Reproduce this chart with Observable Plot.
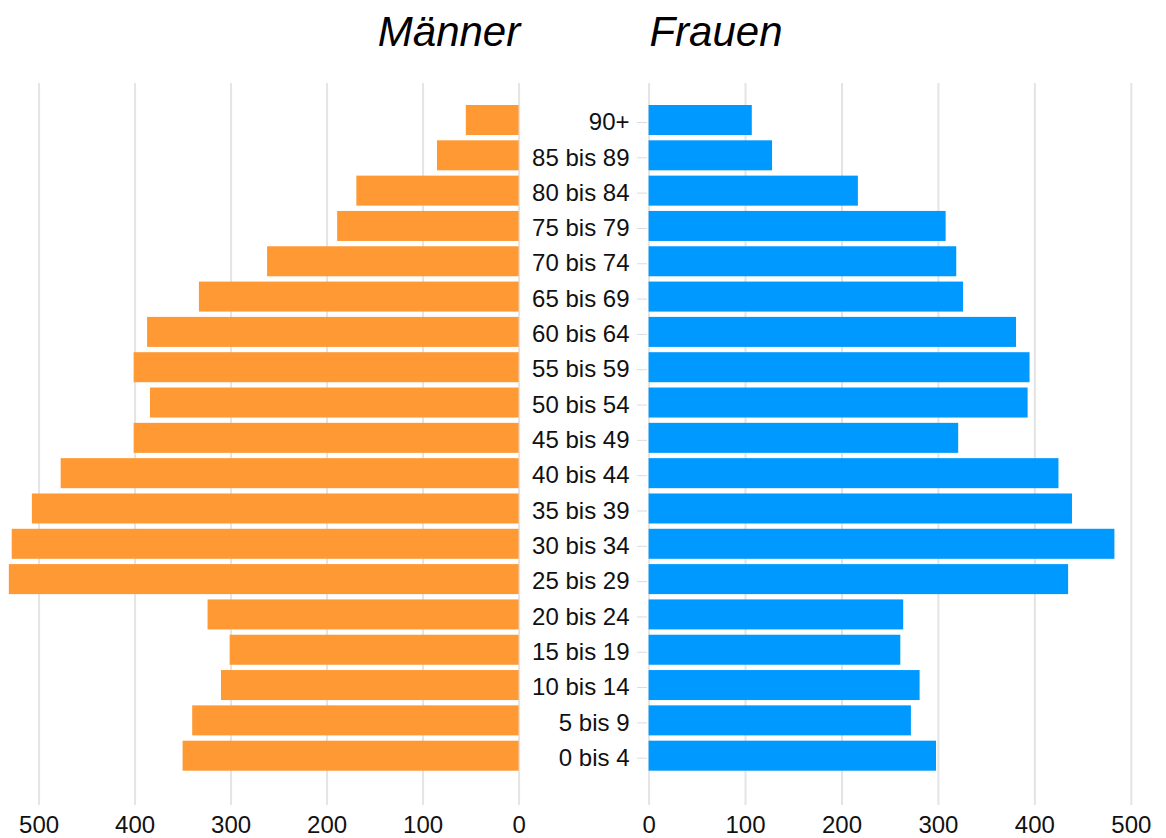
<!DOCTYPE html>
<html>
<head>
<meta charset="utf-8">
<script src="https://cdn.jsdelivr.net/npm/d3@7"></script>
<script src="https://cdn.jsdelivr.net/npm/@observablehq/plot@0.6"></script>
<style>
  html, body { margin: 0; padding: 0; background: #fff; width: 1166px; height: 838px; overflow: hidden; font-family: "Liberation Sans", Arial, sans-serif; }
  .title { position: absolute; top: 8px; font-size: 42px; font-style: italic; color: #000; transform: translateX(-50%); white-space: nowrap; }
  #left, #right { position: absolute; top: 70px; }
  #left { left: 0; }
  #right { left: 520px; }
  svg { overflow: visible; }
</style>
</head>
<body>
<div class="title" style="left:449px">Männer</div>
<div class="title" style="left:716px">Frauen</div>
<div id="left"></div>
<div id="right"></div>
<script>
const ageGroups = ["90+", "85 bis 89", "80 bis 84", "75 bis 79", "70 bis 74", "65 bis 69", "60 bis 64", "55 bis 59", "50 bis 54", "45 bis 49", "40 bis 44", "35 bis 39", "30 bis 34", "25 bis 29", "20 bis 24", "15 bis 19", "10 bis 14", "5 bis 9", "0 bis 4"];
const maenner = [55, 85, 169, 189, 262, 333, 387, 401, 384, 401, 477, 507, 528, 531, 324, 301, 310, 340, 350];
const frauen = [107, 128, 217, 308, 319, 326, 381, 395, 393, 321, 425, 439, 483, 435, 264, 261, 281, 272, 298];
const xTicks = [0, 100, 200, 300, 400, 500];

const menData = ageGroups.map((a, i) => ({age: a, value: maenner[i]}));
const womenData = ageGroups.map((a, i) => ({age: a, value: frauen[i]}));

const H = 768;
const font = "Liberation Sans, Arial, sans-serif";
const yScale = {domain: ageGroups, range: [29.7, 706], padding: 0.15, round: false};

const left = Plot.plot({
  width: 520, height: H,
  marginTop: 13, marginBottom: 33, marginLeft: 0, marginRight: 0,
  style: {fontFamily: font, fontSize: "24px", color: "#111", background: "transparent"},
  x: {domain: [0, 500], range: [518.6, 38.6], axis: null},
  y: {...yScale, axis: null},
  marks: [
    Plot.gridX(xTicks, {stroke: "#e4e4e4", strokeOpacity: 1, strokeWidth: 2}),
    Plot.barX(menData, {x1: 0, x2: "value", y: "age", fill: "#ff9933"}),
    Plot.axisX(xTicks, {anchor: "bottom", label: null, tickSize: 0, tickPadding: 10, fontSize: 24, fill: "#111"})
  ]
});

const right = Plot.plot({
  width: 646, height: H,
  marginTop: 13, marginBottom: 33, marginLeft: 127, marginRight: 0,
  style: {fontFamily: font, fontSize: "24px", color: "#111", background: "transparent"},
  x: {domain: [0, 500], range: [128.6, 610.8], axis: null},
  y: {...yScale, axis: null},
  marks: [
    Plot.gridX(xTicks, {stroke: "#e4e4e4", strokeOpacity: 1, strokeWidth: 2}),
    Plot.barX(womenData, {x1: 0, x2: "value", y: "age", fill: "#0099ff"}),
    Plot.axisX(xTicks, {anchor: "bottom", label: null, tickSize: 0, tickPadding: 10, fontSize: 24, fill: "#111"}),
    Plot.axisY({anchor: "left", label: null, tickSize: 10, tickPadding: 8, fontSize: 24, dy: 2, stroke: "#dcdcdc", fill: "#111"})
  ]
});

document.getElementById("left").appendChild(left);
document.getElementById("right").appendChild(right);
</script>
</body>
</html>
